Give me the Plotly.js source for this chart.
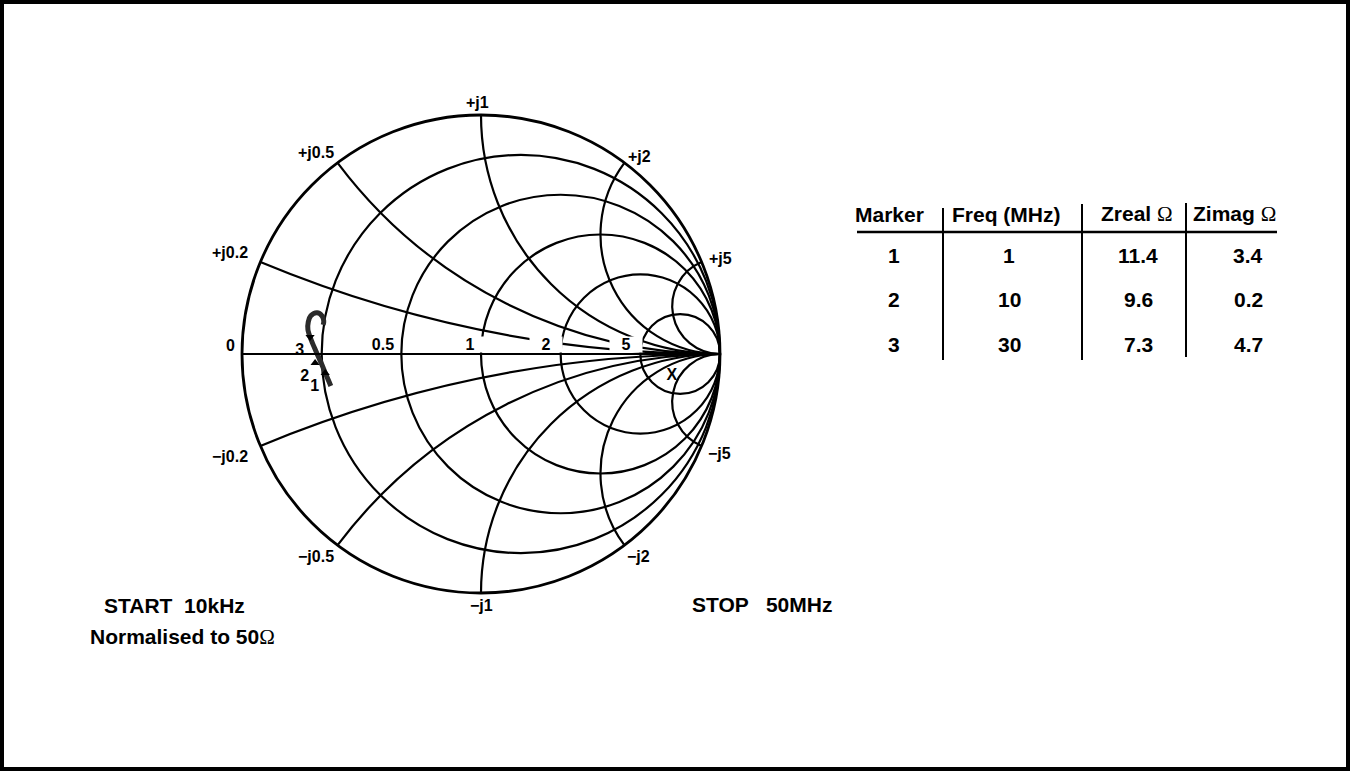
<!DOCTYPE html>
<html>
<head>
<meta charset="utf-8">
<script src="https://cdn.plot.ly/plotly-3.0.1.min.js"></script>
<style>html,body{margin:0;padding:0;background:#fff;}#chart{width:1350px;height:771px;}</style>
</head>
<body>
<div id="chart"></div>
<script>
// ---------- data (impedances in ohms) ----------
const Z0 = 50;
const traceReal = [11.0, 10.5, 9.9, 9.2, 8.4, 7.8, 7.7, 7.9, 8.7, 9.5, 9.9, 9.9];
const traceImag = [-5.0, -3.2, -1.35, 0.3, 2.0, 3.4, 4.5, 5.4, 6.0, 5.7, 5.0, 4.4];

const markerLabels = ['1', '2', '3'];
const markerReal = [10.4, 9.0, 8.2];
const markerImag = [-2.9, -1.3, 2.4];

const crossLabel = ['X'];
const crossReal = [362];
const crossImag = [-185];

const realGrid = [0.2, 0.5, 1, 2, 5];
const imagGrid = [-5, -2, -1, -0.5, -0.2, 0.2, 0.5, 1, 2, 5];
const realTickText = ['0', '0.5', '1', '2', '5'];
const imagTickText = ['+j0.2', '+j0.5', '+j1', '+j2', '+j5', '\u2212j0.2', '\u2212j0.5', '\u2212j1', '\u2212j2', '\u2212j5'];

const tableHeaders = ['Marker', 'Freq (MHz)', 'Zreal \u03A9', 'Zimag \u03A9'];
const tableMarker = ['1', '2', '3'];
const tableFreq = ['1', '10', '30'];
const tableZreal = ['11.4', '9.6', '7.3'];
const tableZimag = ['3.4', '0.2', '4.7'];

const startText = 'START  10kHz';
const normText = 'Normalised to 50\u03A9';
const stopText = 'STOP   50MHz';

// ---------- helpers ----------
const W = 1350, H = 771;
const px = (x) => x / W;
const py = (y) => 1 - y / H;
const FONT = '"Liberation Sans", Arial, sans-serif';
const OMEGA = '<span style="font-family:\'Liberation Serif\',serif;font-weight:normal">\u03A9</span>';

function label(text, x, y, size, opts) {
  return Object.assign({
    text: text, xref: 'paper', yref: 'paper', x: px(x), y: py(y),
    xanchor: 'center', yanchor: 'middle', showarrow: false,
    font: {family: FONT, size: size, color: '#000', weight: 'bold'}
  }, opts || {});
}

const norm = (arr) => arr.map(v => v / Z0);

const traces = [
  {
    type: 'scattersmith', subplot: 'smith',
    real: norm(traceReal), imag: norm(traceImag),
    mode: 'lines', line: {color: '#2b2b2b', width: 5, shape: 'spline'},
    hoverinfo: 'skip', showlegend: false
  },
  {
    type: 'scattersmith', subplot: 'smith',
    real: norm(markerReal), imag: norm(markerImag),
    mode: 'markers+text', text: markerLabels, textposition: 'bottom left',
    textfont: {family: FONT, size: 16, color: '#000', weight: 'bold'},
    marker: {symbol: ['triangle-up', 'triangle-up', 'triangle-down'], size: 8, color: '#000'},
    hoverinfo: 'skip', showlegend: false
  },
  {
    type: 'scattersmith', subplot: 'smith',
    real: norm(crossReal), imag: norm(crossImag),
    mode: 'text', text: crossLabel, textposition: 'middle center',
    textfont: {family: FONT, size: 16, color: '#000', weight: 'bold'},
    hoverinfo: 'skip', showlegend: false
  }
];

// axis labels around the chart
const annotations = [];
const realPos = [[230, 345], [383, 344], [470, 344], [546, 344], [626, 344]];
realTickText.forEach((t, i) => {
  annotations.push(label(t, realPos[i][0], realPos[i][1], 16,
    i === 0 ? {} : {bgcolor: '#fff', width: 30, height: 13}));
});
const imagPos = [[230, 253], [316, 153], [477, 103], [639, 157], [720, 259],
                 [230, 456], [316, 556], [481, 605], [638, 556], [719, 453]];
imagTickText.forEach((t, i) => annotations.push(label(t, imagPos[i][0], imagPos[i][1], 16)));

// table
const colX = [889, 1007, 1137, 1234];
const rowY = [256, 300, 344];
tableHeaders.forEach((t, i) => {
  const txt = t.replace(' \u03A9', ' ' + OMEGA);
  annotations.push(label(txt, colX[i], 214, 21));
});
[tableMarker, tableFreq, tableZreal, tableZimag].forEach((col, c) => {
  col.forEach((t, r) => {
    const cx = c === 3 ? 1248 : (c === 2 ? 1138 : (c === 0 ? 894 : 1009));
    annotations.push(label(t, cx, rowY[r], 21));
  });
});

// footer texts
annotations.push(label(startText, 102, 605, 21, {xanchor: 'left'}));
annotations.push(label(normText.replace('\u03A9', OMEGA), 88, 637, 21, {xanchor: 'left'}));
annotations.push(label(stopText, 690, 604, 21, {xanchor: 'left'}));

const shapes = [
  {type: 'rect', xref: 'paper', yref: 'paper', x0: 0, x1: 1, y0: 0, y1: 1, line: {color: '#000', width: 8}},
  {type: 'line', xref: 'paper', yref: 'paper', x0: px(857), x1: px(1277), y0: py(232), y1: py(232), line: {color: '#000', width: 2.5}},
  {type: 'line', xref: 'paper', yref: 'paper', x0: px(943), x1: px(943), y0: py(208), y1: py(360), line: {color: '#000', width: 2}},
  {type: 'line', xref: 'paper', yref: 'paper', x0: px(1082), x1: px(1082), y0: py(204), y1: py(360), line: {color: '#000', width: 2}},
  {type: 'line', xref: 'paper', yref: 'paper', x0: px(1186), x1: px(1186), y0: py(203), y1: py(357), line: {color: '#000', width: 2}}
];

const layout = {
  width: W, height: H,
  margin: {l: 0, r: 0, t: 0, b: 0},
  paper_bgcolor: '#fff',
  showlegend: false,
  smith: {
    domain: {x: [px(242), px(720)], y: [py(593), py(115)]},
    bgcolor: '#fff',
    realaxis: {
      tickvals: realGrid, showticklabels: false, ticks: '',
      gridcolor: '#000', gridwidth: 2.2, showline: true, linecolor: '#000', linewidth: 2.2
    },
    imaginaryaxis: {
      tickvals: imagGrid, showticklabels: false, ticks: '',
      gridcolor: '#000', gridwidth: 2.2, showline: true, linecolor: '#000', linewidth: 2.8
    }
  },
  annotations: annotations,
  shapes: shapes
};

Plotly.newPlot('chart', traces, layout, {displayModeBar: false, staticPlot: true});
</script>
</body>
</html>
